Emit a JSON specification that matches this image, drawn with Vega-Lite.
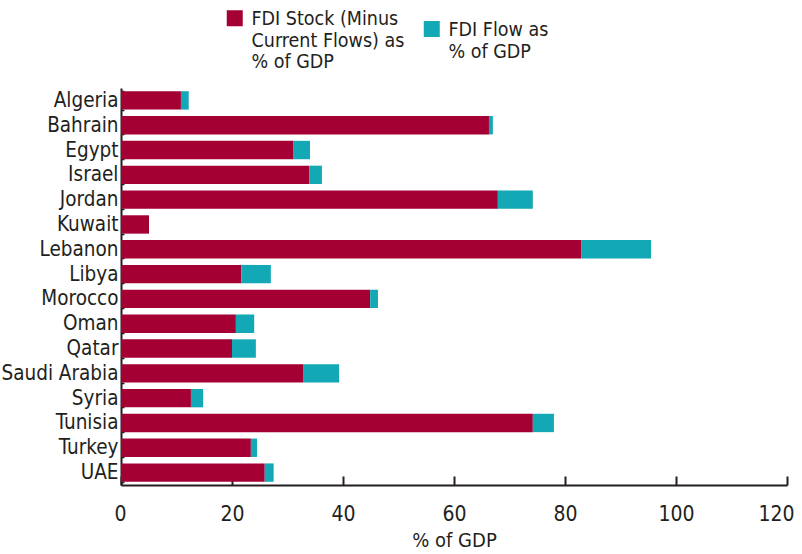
{
  "$schema": "https://vega.github.io/schema/vega-lite/v6.json",
  "width": 666,
  "height": 397,
  "autosize": {"type": "none"},
  "padding": {"left": 121, "top": 88, "right": 15, "bottom": 69},
  "background": "#ffffff",
  "config": {
    "view": {"stroke": null},
    "font": "DejaVu Sans Condensed, Liberation Sans, sans-serif"
  },
  "data": {
    "values": [
      {"country": "Algeria", "series": "FDI Stock (Minus Current Flows) as % of GDP", "value": 10.8},
      {"country": "Algeria", "series": "FDI Flow as % of GDP", "value": 1.4},
      {"country": "Bahrain", "series": "FDI Stock (Minus Current Flows) as % of GDP", "value": 66.3},
      {"country": "Bahrain", "series": "FDI Flow as % of GDP", "value": 0.7},
      {"country": "Egypt", "series": "FDI Stock (Minus Current Flows) as % of GDP", "value": 31.1},
      {"country": "Egypt", "series": "FDI Flow as % of GDP", "value": 2.95},
      {"country": "Israel", "series": "FDI Stock (Minus Current Flows) as % of GDP", "value": 33.9},
      {"country": "Israel", "series": "FDI Flow as % of GDP", "value": 2.3},
      {"country": "Jordan", "series": "FDI Stock (Minus Current Flows) as % of GDP", "value": 67.9},
      {"country": "Jordan", "series": "FDI Flow as % of GDP", "value": 6.3},
      {"country": "Kuwait", "series": "FDI Stock (Minus Current Flows) as % of GDP", "value": 5.05},
      {"country": "Kuwait", "series": "FDI Flow as % of GDP", "value": 0},
      {"country": "Lebanon", "series": "FDI Stock (Minus Current Flows) as % of GDP", "value": 82.9},
      {"country": "Lebanon", "series": "FDI Flow as % of GDP", "value": 12.6},
      {"country": "Libya", "series": "FDI Stock (Minus Current Flows) as % of GDP", "value": 21.7},
      {"country": "Libya", "series": "FDI Flow as % of GDP", "value": 5.3},
      {"country": "Morocco", "series": "FDI Stock (Minus Current Flows) as % of GDP", "value": 44.9},
      {"country": "Morocco", "series": "FDI Flow as % of GDP", "value": 1.4},
      {"country": "Oman", "series": "FDI Stock (Minus Current Flows) as % of GDP", "value": 20.7},
      {"country": "Oman", "series": "FDI Flow as % of GDP", "value": 3.3},
      {"country": "Qatar", "series": "FDI Stock (Minus Current Flows) as % of GDP", "value": 20.0},
      {"country": "Qatar", "series": "FDI Flow as % of GDP", "value": 4.3},
      {"country": "Saudi Arabia", "series": "FDI Stock (Minus Current Flows) as % of GDP", "value": 32.8},
      {"country": "Saudi Arabia", "series": "FDI Flow as % of GDP", "value": 6.5},
      {"country": "Syria", "series": "FDI Stock (Minus Current Flows) as % of GDP", "value": 12.6},
      {"country": "Syria", "series": "FDI Flow as % of GDP", "value": 2.2},
      {"country": "Tunisia", "series": "FDI Stock (Minus Current Flows) as % of GDP", "value": 74.2},
      {"country": "Tunisia", "series": "FDI Flow as % of GDP", "value": 3.8},
      {"country": "Turkey", "series": "FDI Stock (Minus Current Flows) as % of GDP", "value": 23.4},
      {"country": "Turkey", "series": "FDI Flow as % of GDP", "value": 1.1},
      {"country": "UAE", "series": "FDI Stock (Minus Current Flows) as % of GDP", "value": 25.9},
      {"country": "UAE", "series": "FDI Flow as % of GDP", "value": 1.6}
    ]
  },
  "mark": {"type": "bar"},
  "encoding": {
    "y": {
      "field": "country",
      "type": "nominal",
      "sort": null,
      "scale": {"paddingInner": 0.26, "paddingOuter": 0.13},
      "axis": {
        "title": null,
        "domainColor": "#231f20",
        "domainWidth": 2,
        "ticks": true,
        "tickBand": "extent",
        "tickSize": -3,
        "tickColor": "#231f20",
        "tickWidth": 1.5,
        "labelFontSize": 20.5,
        "labelColor": "#231f20",
        "labelPadding": 6
      }
    },
    "x": {
      "field": "value",
      "type": "quantitative",
      "stack": "zero",
      "scale": {"domain": [0, 120], "nice": false},
      "axis": {
        "title": "% of GDP",
        "values": [0, 20, 40, 60, 80, 100, 120],
        "grid": false,
        "labelFlush": true,
        "labelFlushOffset": 7,
        "domainColor": "#231f20",
        "domainWidth": 2,
        "tickColor": "#231f20",
        "tickWidth": 2,
        "tickSize": -9,
        "labelFontSize": 21,
        "labelColor": "#231f20",
        "labelPadding": 27,
        "labelBaseline": "top",
        "titleFontSize": 20,
        "titleFontWeight": "normal",
        "titleColor": "#231f20",
        "titlePadding": 6
      }
    },
    "color": {
      "field": "series",
      "type": "nominal",
      "scale": {
        "domain": ["FDI Stock (Minus Current Flows) as % of GDP", "FDI Flow as % of GDP"],
        "range": ["#a50034", "#12a8b5"]
      },
      "legend": {
        "title": null,
        "orient": "none",
        "legendX": 104,
        "legendY": -78,
        "direction": "horizontal",
        "symbolType": "square",
        "symbolSize": 256,
        "symbolStrokeWidth": 0,
        "symbolOpacity": 1,
        "labelFontSize": 19.5,
        "labelColor": "#231f20",
        "labelBaseline": "top",
        "labelOffset": 7,
        "labelLimit": 400,
        "columnPadding": 12,
        "labelExpr": "datum.label == 'FDI Flow as % of GDP' ? ['FDI Flow as', '% of GDP'] : ['FDI Stock (Minus', 'Current Flows)  as', '% of GDP']",
        "encode": {
          "symbols": {
            "update": {
              "y": {"value": 8},
              "fill": {"signal": "datum.value == 'FDI Flow as % of GDP' ? '#0e8389' : '#a50034'"}
            }
          },
          "labels": {
            "update": {
              "y": {"value": 0}
            }
          }
        }
      }
    },
    "order": {"field": "series", "sort": "descending"}
  }
}
